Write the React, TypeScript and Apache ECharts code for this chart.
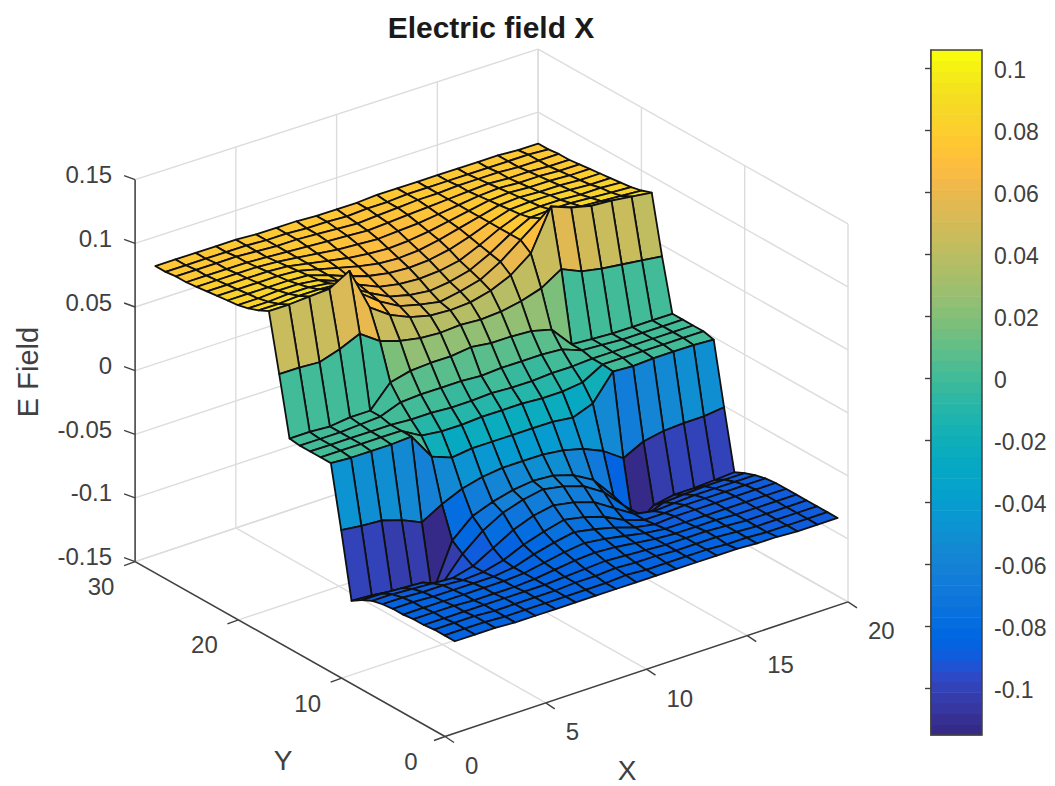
import React, { useEffect, useRef } from "react";
import * as echarts from "echarts";

const W = 1055;
const H = 786;
const FONT = '"Liberation Sans", Arial, sans-serif';
const TEXT = "#404040";

const xTicks = [0, 5, 10, 15, 20];
const yTicks = [0, 10, 20, 30];
const zTicks = [-0.15, -0.1, -0.05, 0, 0.05, 0.1, 0.15];
const zTickLabels = ["-0.15", "-0.1", "-0.05", "0", "0.05", "0.1", "0.15"];
const barTicks = [-0.1, -0.08, -0.06, -0.04, -0.02, 0, 0.02, 0.04, 0.06, 0.08, 0.1];
const barTickLabels = ["-0.1", "-0.08", "-0.06", "-0.04", "-0.02", "0", "0.02", "0.04", "0.06", "0.08", "0.1"];
const barMin = -0.1152;
const barMax = 0.1058;

// Field value in thousandths; one row per Y = 1..30, one column per X = 1..20.
const fieldRows = [
  [-85,-85,-85,-86,-86,-86,-86,-86,-86,-86,-86,-86,-86,-86,-86,-87,-87,-88,-88,-88],
  [-85,-85,-85,-86,-86,-86,-86,-86,-86,-85,-86,-86,-86,-86,-87,-87,-88,-88,-88,-88],
  [-85,-85,-85,-86,-86,-86,-86,-85,-85,-84,-85,-85,-86,-86,-86,-87,-88,-88,-88,-88],
  [-86,-86,-86,-86,-86,-86,-86,-85,-84,-83,-84,-85,-86,-86,-86,-87,-88,-88,-88,-88],
  [-86,-86,-86,-87,-87,-87,-86,-84,-82,-81,-82,-84,-86,-87,-87,-87,-88,-88,-88,-88],
  [-87,-87,-87,-87,-87,-87,-86,-83,-80,-78,-80,-83,-86,-88,-88,-88,-88,-88,-88,-88],
  [-87,-87,-88,-88,-88,-88,-86,-81,-77,-74,-77,-81,-86,-89,-88,-88,-88,-88,-88,-88],
  [-88,-88,-89,-89,-90,-89,-85,-78,-73,-69,-72,-77,-85,-90,-90,-89,-89,-89,-89,-89],
  [-90,-90,-91,-92,-93,-89,-80,-71,-65,-62,-65,-70,-80,-90,-93,-92,-91,-91,-91,-91],
  [-94,-94,-95,-96,-102,-84,-71,-62,-57,-54,-57,-62,-72,-88,-102,-96,-95,-94,-94,-94],
  [-99,-100,-102,-104,-115,-78,-64,-58,-54,-52,-53,-58,-67,-85,-115,-103,-100,-100,-99,-98],
  [-48,-50,-51,-56,-63,-54,-47,-43,-41,-41,-41,-43,-47,-54,-65,-57,-54,-53,-53,-51],
  [0,-1,-1,-1,0,-21,-27,-25,-25,-25,-25,-25,-27,-21,-1,-2,-1,-1,-1,-2],
  [0,0,0,0,0,-9,-11,-11,-10,-10,-10,-11,-11,-9,0,0,0,0,0,0],
  [0,0,0,0,0,-1,-1,-2,-2,-1,-2,-2,-1,-1,0,0,0,0,0,0],
  [0,0,0,1,2,8,9,9,9,8,9,9,9,8,2,1,0,0,0,0],
  [1,1,0,2,2,19,23,24,24,26,24,24,23,19,2,1,0,0,0,0],
  [47,47,46,51,58,47,42,39,38,39,38,39,42,47,57,50,47,45,43,41],
  [92,92,93,94,103,69,58,51,47,46,47,51,58,70,102,96,92,91,89,87],
  [88,88,89,89,88,76,64,55,51,48,51,55,64,76,88,88,87,86,85,84],
  [85,85,86,86,84,76,66,58,54,52,54,58,66,76,84,85,85,84,83,82],
  [83,83,84,84,82,76,68,61,58,57,58,61,68,76,82,83,83,82,82,81],
  [82,82,82,82,81,76,70,65,62,61,62,65,70,76,81,82,82,81,80,80],
  [81,81,81,81,80,76,72,68,65,64,65,68,72,76,80,81,80,80,79,79],
  [80,80,80,80,79,76,73,70,68,67,68,70,73,76,79,80,79,79,78,78],
  [79,79,79,79,78,76,74,72,71,70,71,72,74,76,78,79,78,78,77,77],
  [78,78,78,78,77,76,75,74,73,72,73,74,75,76,77,78,77,77,76,76],
  [78,78,78,78,77,76,76,75,74,73,74,75,76,76,77,77,77,76,76,76],
  [77,77,77,77,77,76,76,75,75,74,75,75,76,76,76,76,76,76,76,75],
  [77,77,77,77,77,76,76,76,75,75,75,76,76,76,76,76,76,76,75,75],
];

const parula = [
  [0.2081,0.1663,0.5292],[0.2116,0.1898,0.5777],[0.2123,0.2138,0.627],[0.2081,0.2386,0.6771],
  [0.1959,0.2645,0.7279],[0.1707,0.2919,0.7792],[0.1253,0.3242,0.8303],[0.0591,0.3598,0.8683],
  [0.0117,0.3875,0.882],[0.006,0.4086,0.8828],[0.0165,0.4266,0.8786],[0.0329,0.443,0.872],
  [0.0498,0.4586,0.8641],[0.0629,0.4737,0.8554],[0.0723,0.4887,0.8467],[0.0779,0.504,0.8384],
  [0.0793,0.52,0.8312],[0.0749,0.5375,0.8263],[0.0641,0.557,0.824],[0.0488,0.5772,0.8228],
  [0.0343,0.5966,0.8199],[0.0265,0.6137,0.8135],[0.0239,0.6287,0.8038],[0.0231,0.6418,0.7913],
  [0.0228,0.6535,0.7768],[0.0267,0.6642,0.7607],[0.0384,0.6743,0.7436],[0.059,0.6838,0.7254],
  [0.0843,0.6928,0.7062],[0.1133,0.7015,0.6859],[0.1453,0.7098,0.6646],[0.1801,0.7177,0.6424],
  [0.2178,0.725,0.6193],[0.2586,0.7317,0.5954],[0.3022,0.7376,0.5712],[0.3482,0.7424,0.5473],
  [0.3953,0.7459,0.5244],[0.442,0.7481,0.5033],[0.4871,0.7491,0.484],[0.53,0.7491,0.4661],
  [0.5709,0.7485,0.4494],[0.6099,0.7473,0.4337],[0.6473,0.7456,0.4188],[0.6834,0.7435,0.4044],
  [0.7184,0.7411,0.3905],[0.7525,0.7384,0.3768],[0.7858,0.7356,0.3633],[0.8185,0.7327,0.3498],
  [0.8507,0.7299,0.336],[0.8824,0.7274,0.3217],[0.9139,0.7258,0.3063],[0.945,0.7261,0.2886],
  [0.9739,0.7314,0.2666],[0.9938,0.7455,0.2403],[0.999,0.7653,0.2164],[0.9955,0.7861,0.1967],
  [0.988,0.8066,0.1794],[0.9789,0.8271,0.1633],[0.9697,0.8481,0.1475],[0.9626,0.8705,0.1309],
  [0.9589,0.8949,0.1132],[0.9598,0.9218,0.0948],[0.9661,0.9514,0.0755],[0.9763,0.9831,0.0538],
];
const parulaCss = parula.map(
  (c) => `rgb(${Math.round(c[0] * 255)},${Math.round(c[1] * 255)},${Math.round(c[2] * 255)})`
);

const colorOf = (z: number) => {
  const k = Math.floor(((z - barMin) / (barMax - barMin)) * parulaCss.length);
  return parulaCss[Math.max(0, Math.min(parulaCss.length - 1, k))];
};

// The 3D view: data (x, y, z) to the hidden page-sized 2D axes.
const project = (x: number, y: number, z: number) => [
  445 + 20.15 * x - 10.33 * y,
  736.5 - 6.73 * x - 5.83 * y - (z + 0.15) * 1273 + 0.66 * x * (z + 0.15),
];

const zLo = zTicks[0];
const zHi = zTicks[zTicks.length - 1];
const xHi = xTicks[xTicks.length - 1];
const yHi = yTicks[yTicks.length - 1];

type Seg = number[];
const gridSegs: Seg[] = [];
xTicks.forEach((x) => {
  gridSegs.push([x, 0, zLo, x, yHi, zLo]);
  gridSegs.push([x, yHi, zLo, x, yHi, zHi]);
});
yTicks.forEach((y) => {
  gridSegs.push([0, y, zLo, xHi, y, zLo]);
  gridSegs.push([xHi, y, zLo, xHi, y, zHi]);
});
zTicks.forEach((z) => {
  gridSegs.push([0, yHi, z, xHi, yHi, z]);
  gridSegs.push([xHi, yHi, z, xHi, 0, z]);
});

const axisSegs: Seg[] = [
  [0, 0, zLo, xHi, 0, zLo],
  [0, 0, zLo, 0, yHi, zLo],
  [0, yHi, zLo, 0, yHi, zHi],
];

const surfaceCells: number[][] = [];
for (let j = fieldRows.length - 2; j >= 0; j--) {
  for (let i = fieldRows[0].length - 2; i >= 0; i--) surfaceCells.push([i, j]);
}

const vertex = (i: number, j: number) => project(i + 1, j + 1, fieldRows[j][i] / 1000);

export default function App() {
  const ref = useRef<HTMLDivElement>(null);

  useEffect(() => {
    const chart = echarts.init(ref.current!, undefined, { renderer: "svg" });

    const segRender = (color: string, width: number) => (params: any, api: any) => {
      const s = params.dataIndex;
      const v = [0, 1, 2, 3, 4, 5].map((d) => api.value(d));
      const a = api.coord(project(v[0], v[1], v[2]));
      const b = api.coord(project(v[3], v[4], v[5]));
      return {
        type: "line",
        key: s,
        shape: { x1: a[0], y1: a[1], x2: b[0], y2: b[1] },
        style: { stroke: color, lineWidth: width, fill: null },
      };
    };

    const tickSeg = (px: number[], dx: number, dy: number) => ({
      type: "line",
      shape: { x1: px[0], y1: px[1], x2: px[0] + dx, y2: px[1] + dy },
      style: { stroke: TEXT, lineWidth: 1.4, fill: null },
    });

    const tickLabel = (px: number[], text: string, align: string, size = 24) => ({
      type: "text",
      style: {
        x: px[0],
        y: px[1],
        text,
        fill: TEXT,
        font: `${size}px ${FONT}`,
        align,
        verticalAlign: "middle",
      },
    });

    const option: any = {
      animation: false,
      backgroundColor: "#ffffff",
      title: {
        text: "Electric field X",
        left: 486,
        top: 7,
        textAlign: "center",
        textStyle: { fontFamily: FONT, fontSize: 30, fontWeight: "bold", color: "#1a1a1a" },
      },
      grid: [
        { left: 0, top: 0, width: W, height: H, show: false },
        {
          left: 931,
          top: 50,
          width: 51,
          height: 685,
          show: true,
          borderColor: TEXT,
          borderWidth: 1.5,
          z: 5,
        },
      ],
      xAxis: [
        { gridIndex: 0, type: "value", min: 0, max: W, show: false },
        { gridIndex: 1, type: "value", min: 0, max: 1, show: false },
      ],
      yAxis: [
        { gridIndex: 0, type: "value", min: 0, max: H, inverse: true, show: false },
        {
          gridIndex: 1,
          type: "value",
          min: barMin,
          max: barMax,
          position: "right",
          splitLine: { show: false },
          axisLine: { show: true, lineStyle: { color: TEXT, width: 1.5 } },
          axisTick: {
            show: true,
            inside: true,
            length: 6,
            customValues: barTicks,
            lineStyle: { color: TEXT, width: 1.4 },
          },
          axisLabel: { show: false },
        },
      ],
      series: [
        {
          type: "custom",
          name: "grid",
          xAxisIndex: 0,
          yAxisIndex: 0,
          silent: true,
          z: 1,
          data: gridSegs,
          renderItem: segRender("#dcdcdc", 1.4),
        },
        {
          type: "custom",
          name: "axes",
          xAxisIndex: 0,
          yAxisIndex: 0,
          silent: true,
          z: 2,
          data: axisSegs,
          renderItem: segRender(TEXT, 1.5),
        },
        {
          type: "custom",
          name: "xTicks",
          xAxisIndex: 0,
          yAxisIndex: 0,
          silent: true,
          z: 2,
          data: xTicks.map((t) => [t]),
          renderItem: (_p: any, api: any) => {
            const t = api.value(0);
            const a = api.coord(project(t, 0, zLo));
            return {
              type: "group",
              children: [
                tickSeg(a, 9, 6),
                tickLabel([a[0] + 20, a[1] + 29], String(t), "left"),
              ],
            };
          },
        },
        {
          type: "custom",
          name: "yTicks",
          xAxisIndex: 0,
          yAxisIndex: 0,
          silent: true,
          z: 2,
          data: yTicks.map((t) => [t]),
          renderItem: (_p: any, api: any) => {
            const t = api.value(0);
            const a = api.coord(project(0, t, zLo));
            return {
              type: "group",
              children: [
                tickSeg(a, -11, 4),
                tickLabel([a[0] - 34, a[1] + 25], String(t), "center"),
              ],
            };
          },
        },
        {
          type: "custom",
          name: "zTicks",
          xAxisIndex: 0,
          yAxisIndex: 0,
          silent: true,
          z: 2,
          data: zTicks.map((t) => [t]),
          renderItem: (p: any, api: any) => {
            const a = api.coord(project(0, yHi, api.value(0)));
            return {
              type: "group",
              children: [
                tickSeg(a, -11, -4),
                tickLabel([a[0] - 23, a[1] - 5], zTickLabels[p.dataIndex], "right"),
              ],
            };
          },
        },
        {
          type: "custom",
          name: "Electric field X",
          xAxisIndex: 0,
          yAxisIndex: 0,
          silent: true,
          z: 3,
          data: surfaceCells,
          renderItem: (_p: any, api: any) => {
            const i = api.value(0);
            const j = api.value(1);
            const pts = [
              vertex(i, j),
              vertex(i + 1, j),
              vertex(i + 1, j + 1),
              vertex(i, j + 1),
            ].map((q) => api.coord(q));
            return {
              type: "polygon",
              shape: { points: pts },
              style: {
                fill: colorOf(fieldRows[j][i] / 1000),
                stroke: "#101010",
                lineWidth: 1.8,
                lineJoin: "round",
              },
            };
          },
        },
        {
          type: "custom",
          name: "colorbar",
          xAxisIndex: 1,
          yAxisIndex: 1,
          silent: true,
          z: 3,
          data: parulaCss.map((_, k) => [k]),
          renderItem: (_p: any, api: any) => {
            const k = api.value(0);
            const n = parulaCss.length;
            const hi = barMin + ((k + 1) / n) * (barMax - barMin);
            const lo = barMin + (k / n) * (barMax - barMin);
            const a = api.coord([0, hi]);
            const b = api.coord([1, lo]);
            return {
              type: "rect",
              shape: { x: a[0], y: a[1], width: b[0] - a[0], height: b[1] - a[1] + 0.6 },
              style: { fill: parulaCss[k] },
            };
          },
        },
        {
          type: "custom",
          name: "colorbarLabels",
          xAxisIndex: 1,
          yAxisIndex: 1,
          silent: true,
          z: 6,
          data: barTicks.map((t) => [1, t]),
          renderItem: (p: any, api: any) => {
            const a = api.coord([api.value(0), api.value(1)]);
            return tickLabel([a[0] + 12, a[1] + 2.5], barTickLabels[p.dataIndex], "left", 23);
          },
        },
      ],
      graphic: [
        {
          type: "text",
          x: 627,
          y: 770,
          style: { text: "X", fill: TEXT, font: `28px ${FONT}`, align: "center", verticalAlign: "middle" },
        },
        {
          type: "text",
          x: 283,
          y: 760,
          style: { text: "Y", fill: TEXT, font: `28px ${FONT}`, align: "center", verticalAlign: "middle" },
        },
        {
          type: "text",
          x: 28,
          y: 372,
          rotation: Math.PI / 2,
          style: { text: "E Field", fill: TEXT, font: `29px ${FONT}`, align: "center", verticalAlign: "middle" },
        },
      ],
    };

    chart.setOption(option);
    return () => chart.dispose();
  }, []);

  return <div ref={ref} style={{ position: "fixed", left: 0, top: 0, width: W, height: H }} />;
}
